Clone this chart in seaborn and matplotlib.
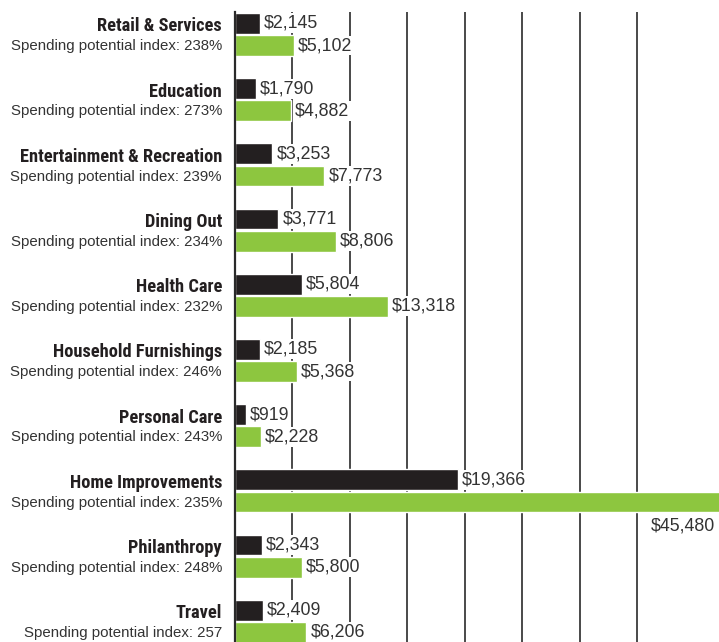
import matplotlib
matplotlib.use("Agg")
import matplotlib.pyplot as plt
import matplotlib.transforms as mtransforms
import seaborn as sns
import pandas as pd

categories = ["Retail & Services", "Education", "Entertainment & Recreation",
              "Dining Out", "Health Care", "Household Furnishings",
              "Personal Care", "Home Improvements", "Philanthropy", "Travel"]
index_labels = ["238%", "273%", "239%", "234%", "232%", "246%", "243%",
                "235%", "248%", "257"]
series_names = ["Average", "Target"]
values_black = [2145, 1790, 3253, 3771, 5804, 2185, 919, 19366, 2343, 2409]
values_green = [5102, 4882, 7773, 8806, 13318, 5368, 2228, 45480, 5800, 6206]
grid_ticks = [5000, 10000, 15000, 20000, 25000, 30000, 35000]

BLACK = "#231f20"
GREEN = "#8dc63f"
TEXT = "#333333"

df = pd.DataFrame({
    "category": categories * 2,
    "series": [series_names[0]] * len(categories) + [series_names[1]] * len(categories),
    "value": values_black + values_green,
})

sns.set_style("white")
plt.rcParams["font.family"] = ["Liberation Sans", "DejaVu Sans"]

fig = plt.figure(figsize=(7.19, 6.42), dpi=100)
ax = fig.add_axes([235 / 719, 0.0, 1 - 235 / 719, 1 - 12 / 642])

sns.barplot(data=df, y="category", x="value", hue="series", orient="h",
            palette=[BLACK, GREEN], width=0.68, gap=0.06, legend=False,
            saturation=1, ax=ax)

ax.set_xlim(0, 42087)
ax.set_ylim(9.318, -0.345)
ax.set_xticks(grid_ticks)
ax.set_xticklabels([])
ax.set_yticks([])
ax.set_xlabel("")
ax.set_ylabel("")
ax.tick_params(length=0)
ax.set_axisbelow(True)
ax.grid(axis="x", color="#3a3a3a", linewidth=1.3)
ax.grid(axis="y", visible=False)
for s in ["top", "right", "bottom"]:
    ax.spines[s].set_visible(False)
ax.spines["left"].set_color("#2a2a2a")
ax.spines["left"].set_linewidth(1.6)

xmax = ax.get_xlim()[1]
box = dict(facecolor="white", edgecolor="none", pad=1.0)
for cont, vals in zip(ax.containers, [values_black, values_green]):
    for patch, v in zip(cont.patches, vals):
        yc = patch.get_y() + patch.get_height() / 2
        label = f"${v:,}"
        if v > xmax:
            ax.annotate(label, xy=(xmax, yc + patch.get_height()),
                        xytext=(-4, 5), textcoords="offset pixels",
                        ha="right", va="top", fontsize=12.8, color=TEXT,
                        bbox=box, zorder=5, annotation_clip=False)
        else:
            ax.annotate(label, xy=(v, yc), xytext=(4, 0),
                        textcoords="offset pixels", ha="left", va="center",
                        fontsize=12.8, color=TEXT, bbox=box, zorder=5)

trans = mtransforms.blended_transform_factory(ax.transAxes, ax.transData)
name_family = ["Roboto Condensed", "Open Sans Condensed", "DejaVu Sans Condensed",
               "Liberation Sans Narrow", "Liberation Sans"]
name_texts = []
for i, (cat, idx) in enumerate(zip(categories, index_labels)):
    t = ax.text(-13 / 484, i - 0.125, cat, transform=trans, ha="right", va="center",
                fontsize=13.5, fontweight="bold", fontstretch="condensed",
                color=BLACK, family=name_family, clip_on=False)
    name_texts.append(t)
    ax.text(-13 / 484, i + 0.18, f"Spending potential index: {idx}",
            transform=trans, ha="right", va="center", fontsize=10.8,
            color=TEXT, clip_on=False)

# fit the widest name to the width it has in the reference (about 202 px)
renderer = fig.canvas.get_renderer()
widest = max(t.get_window_extent(renderer).width for t in name_texts)
scale = min(1.0, 202.0 / widest)
for t in name_texts:
    t.set_fontsize(13.5 * scale)

fig.savefig("out.png", dpi=100, facecolor="white")
